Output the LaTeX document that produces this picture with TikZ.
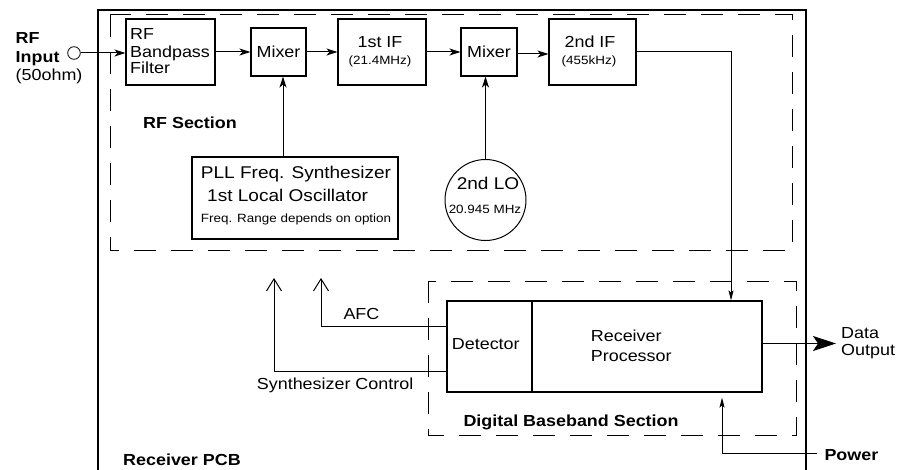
\documentclass[tikz,border=0pt]{standalone}
\usepackage{fontspec}
\setmainfont{Liberation Sans}[FakeStretch=1.12]
\usetikzlibrary{arrows.meta}

\begin{document}
\begin{tikzpicture}[x=1pt,y=-1pt,
  box/.style={draw,line width=1.1pt,inner sep=0pt,rectangle},
  lw/.style={inner sep=0pt,anchor=base west},
  lc/.style={inner sep=0pt,anchor=base},
  fr/.style={font=\fontsize{16}{18}\selectfont},
  fb/.style={font=\fontsize{16}{18}\selectfont\bfseries},
  fl/.style={font=\fontsize{17}{19}\selectfont},
  fs/.style={font=\fontsize{12}{14}\selectfont},
  sig/.style={line width=1pt,-{Stealth[length=11pt,width=7pt,inset=3pt]}},
  feed/.style={line width=1pt,-{Stealth[length=10pt,width=5pt,inset=2pt]}},
  ctl/.style={line width=1pt,-{Straight Barb[length=12pt,width=15pt]}},
  outarr/.style={line width=1pt,-{Stealth[length=23pt,width=15pt,inset=5pt]}},
  section/.style={draw,line width=1pt,dash pattern=on 22pt off 15pt},
]
\useasboundingbox (0,0) rectangle (901,470);

% receiver board outline (open at the bottom)
\draw[line width=1.1pt] (98,470) -- (98,10) -- (806,10) -- (806,470);

% section frames
\draw[section] (110,15) rectangle (792,250);
\draw[section] (428,281) rectangle (796,435);

% RF input connector
\node[draw,circle,line width=0.8pt,minimum size=12.6pt,inner sep=0pt] (inp) at (74,53) {};
\node[lw,fb] (rfl1) at (15.5,43.3) {RF};
\node[lw,fb] (rfl2) at (15.5,62.5) {Input};
\node[lw,fr] (rfl3) at (15.5,81) {(50ohm)};

% RF chain blocks
\node[box,minimum width=89pt,minimum height=66pt] (bpf) at (170.5,52) {};
\node[lw,fr] (bpft1) at (130,40) {RF};
\node[lw,fr] (bpft2) at (130,57.3) {Bandpass};
\node[lw,fr] (bpft3) at (130,74) {Filter};

\node[box,minimum width=55pt,minimum height=48pt,fr] (mix1) at (278.5,52) {Mixer};

\node[box,minimum width=88pt,minimum height=66pt] (if1) at (382,52) {};
\node[lc,fr] (if1t) at (380,47.7) {1st IF};
\node[lc,fs] (if1f) at (380,65) {(21.4MHz)};

\node[box,minimum width=56pt,minimum height=48pt,fr] (mix2) at (489,52) {Mixer};

\node[box,minimum width=87pt,minimum height=66pt] (if2) at (592.5,52) {};
\node[lc,fr] (if2t) at (590,47.7) {2nd IF};
\node[lc,fs] (if2f) at (589,65) {(455kHz)};

\node[lw,fb] (rfsec) at (143,128.3) {RF Section};

% local oscillators
\node[box,minimum width=206pt,minimum height=82pt] (pll) at (295,198) {};
\node[lw,fl] (pllt1) at (200.7,179) {PLL Freq. Synthesizer};
\node[lw,fl] (pllt2) at (207,201.7) {1st Local Oscillator};
\node[lw,fs] (pllt3) at (200.7,222.7) {Freq. Range depends on option};

\node[draw,circle,line width=1pt,minimum size=81pt,inner sep=0pt] (lo2) at (485.5,200) {};
\node[lc,fl] (lo2t) at (488,189.3) {2nd LO};
\node[lc,fs] (lo2f) at (485,214) {20.945 MHz};

% baseband blocks
\node[box,minimum width=85pt,minimum height=91pt] (det) at (489.5,346.5) {};
\node[box,minimum width=230pt,minimum height=91pt] (proc) at (647,346.5) {};
\node[lw,fr] (dett) at (451.7,349.3) {Detector};
\node[lw,fr] (proct1) at (590.7,341.7) {Receiver};
\node[lw,fr] (proct2) at (590.7,361) {Processor};
\node[lw,fb] (bbsec) at (463.3,426.7) {Digital Baseband Section};

% signal path
\draw[sig] (inp.east) -- (inp.east -| bpf.west);
\draw[sig] (bpf.east) -- (mix1.west);
\draw[sig] (mix1.east) -- (if1.west);
\draw[sig] (if1.east) -- (mix2.west);
\draw[sig] ([yshift=-2pt]mix2.east) -- ([yshift=-2pt]if2.west);
\draw[sig] (pll.north -| 283,0) -- (mix1.south -| 283,0);
\draw[sig] (lo2.north) -- (lo2.north |- mix2.south);
\draw[feed] (if2.east) -| ([xshift=84pt]proc.north);

% control feedback
\coordinate (afcend) at (321,278);
\coordinate (synend) at (274,278);
\draw[ctl] ([yshift=20.5pt]det.west) -| (afcend);
\draw[ctl] ([yshift=-24.5pt]det.west) -| (synend);
\node[lw,fr] (afct) at (343.3,319) {AFC};
\node[lw,fr] (synt) at (256.7,389.3) {Synthesizer Control};

% data output and power
\coordinate (dataend) at (836,343.5);
\draw[outarr] ([yshift=3pt]proc.east) -- (dataend);
\node[lw,fr] (datat1) at (841,338.3) {Data};
\node[lw,fr] (datat2) at (841,355) {Output};

\coordinate (pwrin) at (817,453);
\draw[feed] (pwrin) -| ([xshift=75pt,yshift=-5pt]proc.south);
\node[lw,fb] (pwrt) at (824.3,460) {Power};

\node[lw,fb] (pcbt) at (123,465) {Receiver PCB};
\end{tikzpicture}
\end{document}
